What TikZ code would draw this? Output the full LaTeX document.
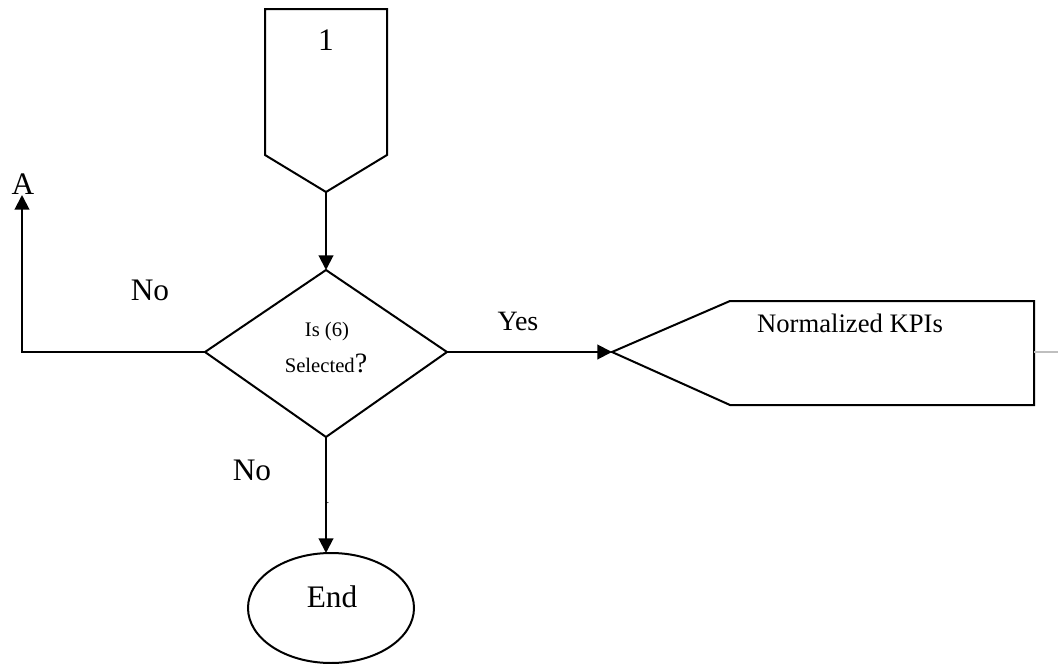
\documentclass[tikz,border=0pt]{standalone}
\usepackage{fontspec}
\setmainfont{Liberation Serif}
\usetikzlibrary{arrows.meta}
\begin{document}
\begin{tikzpicture}[x=0.75pt,y=-0.75pt,
  line width=1.5pt,
  >={Triangle[length=11pt,width=11pt]},
  lbl/.style={inner sep=0pt,font=\fontsize{20}{24}\selectfont},
  big/.style={inner sep=0pt,font=\fontsize{23.5}{28}\selectfont},
  small/.style={inner sep=0pt,font=\fontsize{15.5}{18}\selectfont}]
\useasboundingbox (0,0) rectangle (1058,664);
% connector shape "1"
\draw (265,9) -- (387,9) -- (387,155) -- (326,192) -- (265,155) -- cycle;
\coordinate (p1) at (326,192);
\node[big] (t1) at (326,40) {1};
% decision diamond
\coordinate (dT) at (326,270);
\coordinate (dR) at (447,352);
\coordinate (dB) at (326,437);
\coordinate (dL) at (205,352);
\draw (dT) -- (dR) -- (dB) -- (dL) -- cycle;
\node[small] (q1) at (327,332) {Is (6)};
\node[small,anchor=base] (q2) at (326,372) {Selected\fontsize{21}{24}\selectfont?};
\draw[->] (p1) -- (dT);
% left branch to A
\coordinate (lc) at (22,352);
\coordinate (aT) at (22,195);
\draw[->] (dL) -- (lc) -- (aT);
\node[big] (A) at (23,184) {A};
\node[big] (no1) at (150,290) {No};
% right branch to output
\coordinate (kT) at (612,352);
\draw[->] (dR) -- (kT);
\node[lbl,font=\fontsize{21}{24}\selectfont] (yes) at (518,321) {Yes};
\draw (kT) -- (730,301) -- (1034,301) -- (1034,405) -- (730,405) -- cycle;
\coordinate (kR) at (1034,352);
\coordinate (kE) at (1058,352);
\draw[gray!50,line width=0.8pt] (kR) -- (kE);
\node[lbl] (kpi) at (850,323) {Normalized KPIs};
% bottom branch to End
\coordinate (eT) at (326,553);
\draw[->] (dB) -- (eT);
\draw (331,608) ellipse [x radius=83, y radius=55];
\node[big] (end) at (332,597) {End};
\node[big] (no2) at (252,470) {No};
\node[inner sep=0pt,font=\fontsize{8}{8}\selectfont] (dot) at (328,503) {.};
\end{tikzpicture}
\end{document}
